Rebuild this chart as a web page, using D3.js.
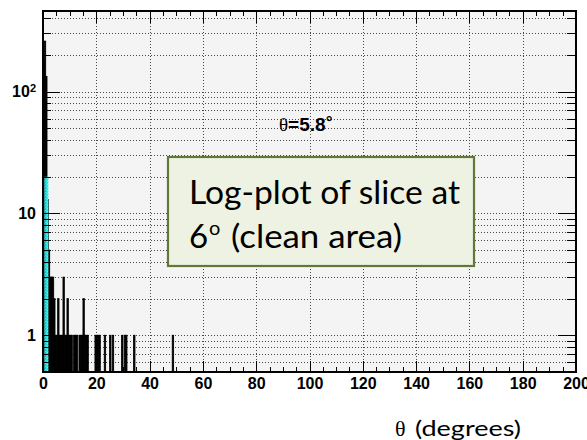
<!DOCTYPE html>
<html>
<head>
<meta charset="utf-8">
<script src="https://cdn.jsdelivr.net/npm/d3@7"></script>
<style>
  html, body { margin: 0; padding: 0; background: #ffffff; }
  svg { display: block; }
</style>
</head>
<body>
<svg id="chart" width="587" height="440"></svg>
<script>
// ---------- data ----------
const binWidth = 0.5;                       // degrees per bin
// main (black) histogram: low edges of non-empty bins and their counts
const mainLow   = [0.0, 0.5, 1.0, 1.5, 2.0, 2.5, 3.0, 3.5, 4.0, 4.5, 5.0, 5.5, 6.0, 6.5, 7.0, 7.5, 8.0, 8.5, 9.0, 9.5,
                   10.0, 10.5, 11.5, 12.0, 12.5, 13.5, 14.0, 14.5, 15.0, 15.5, 16.0, 16.5,
                   19.5, 20.0, 20.5, 21.0, 23.0, 25.0, 26.0, 29.5, 30.5, 31.0, 34.0, 48.5];
const mainCount = [184, 259, 133, 13, 5, 3, 3, 3, 2, 1, 1, 2, 1, 1, 1, 3, 1, 1, 2, 1,
                   1, 1, 1, 1, 1, 1, 1, 1, 2, 1, 1, 1,
                   1, 1, 1, 1, 1, 1, 1, 1, 1, 1, 1, 1];
// cyan (core) histogram
const coreLow   = [0.5, 1.0, 1.5];
const coreCount = [20, 20, 20];

const xTicksMajor = [0, 20, 40, 60, 80, 100, 120, 140, 160, 180, 200];
const yTicksMajor = [1, 10, 100];
const yLabels     = ["1", "10", "10^2"];
const titleValue  = "5.8";
const boxLine1    = "Log-plot of slice at";
const boxLine2a   = "6";
const boxLine2sup = "o";
const boxLine2b   = "(clean area)";
const xAxisTitle  = "(degrees)";

// ---------- layout ----------
const L = 43, R = 576, T = 11, B = 372;
const svg = d3.select("#chart");
const x = d3.scaleLinear().domain([0, 200]).range([L, R]);
const y = d3.scaleLog().domain([0.5, 458]).range([B, T]);

// minor tick values
const xMinor = d3.range(0, 201, 5).filter(v => v % 20 !== 0);
const yAll = [];
[0.1, 1, 10, 100].forEach(d => { for (let k = 1; k <= 9; k++) { const v = +(k * d).toPrecision(3); if (v >= 0.5 && v <= 458) yAll.push(v); } });
const yMinor = yAll.filter(v => !yTicksMajor.includes(v));

// clip
svg.append("defs").append("clipPath").attr("id", "plotclip")
  .append("rect").attr("x", L).attr("y", T).attr("width", R - L).attr("height", B - T);

// cyan checker pattern
const pat = svg.select("defs").append("pattern").attr("id", "cyanpat")
  .attr("patternUnits", "userSpaceOnUse").attr("width", 3).attr("height", 3);
pat.append("rect").attr("width", 3).attr("height", 3).attr("fill", "#2fe0e0");
pat.append("rect").attr("x", 0).attr("y", 0).attr("width", 1).attr("height", 1).attr("fill", "#a8f4f4");
pat.append("rect").attr("x", 2).attr("y", 1).attr("width", 1).attr("height", 1).attr("fill", "#7aeaea");

// background
svg.append("rect").attr("x", L).attr("y", T).attr("width", R - L).attr("height", B - T).attr("fill", "#f4f4f4");

// grid
const grid = svg.append("g").attr("stroke", "#000").attr("stroke-width", 1)
  .attr("stroke-dasharray", "1,2").attr("shape-rendering", "crispEdges").attr("opacity", 0.7);
grid.selectAll("line.v").data(xTicksMajor.filter(v => v > 0 && v < 200)).join("line")
  .attr("x1", d => Math.round(x(d)) + 0.5).attr("x2", d => Math.round(x(d)) + 0.5)
  .attr("y1", T).attr("y2", B);
grid.selectAll("line.h").data(yAll).join("line")
  .attr("y1", d => Math.round(y(d)) + 0.5).attr("y2", d => Math.round(y(d)) + 0.5)
  .attr("x1", L).attr("x2", R);

// histogram bars
const plot = svg.append("g").attr("clip-path", "url(#plotclip)");
const mainBins = mainLow.map((lo, i) => ({ lo, c: mainCount[i] }));
plot.selectAll("rect.main").data(mainBins).join("rect")
  .attr("x", d => x(d.lo)).attr("width", d => x(d.lo + binWidth) - x(d.lo))
  .attr("y", d => y(d.c)).attr("height", d => B - y(d.c))
  .attr("fill", "#000").attr("stroke", "#000").attr("stroke-width", 0.9);
const coreBins = coreLow.map((lo, i) => ({ lo, c: coreCount[i] }));
plot.selectAll("rect.core").data(coreBins).join("rect")
  .attr("x", d => x(d.lo)).attr("width", d => x(d.lo + binWidth) - x(d.lo) + 0.05)
  .attr("y", d => y(d.c)).attr("height", d => B - y(d.c))
  .attr("fill", "url(#cyanpat)");

// axes ticks
function strip(g) { g.select(".domain").remove(); g.selectAll("line").attr("stroke", "#000").attr("shape-rendering", "crispEdges"); }
const tickFont = "bold 16px 'Liberation Sans', Arial, sans-serif";

// bottom
svg.append("g").attr("transform", `translate(0,${B})`)
  .call(d3.axisBottom(x).tickValues(xTicksMajor).tickSizeInner(-11).tickSizeOuter(0).tickPadding(6).tickFormat(d3.format("d")))
  .call(strip)
  .call(g => g.selectAll("text").attr("fill", "#000").style("font", tickFont));
svg.append("g").attr("transform", `translate(0,${B})`)
  .call(d3.axisBottom(x).tickValues(xMinor).tickSizeInner(-5).tickSizeOuter(0).tickFormat(""))
  .call(strip);
// top
svg.append("g").attr("transform", `translate(0,${T})`)
  .call(d3.axisTop(x).tickValues(xTicksMajor).tickSizeInner(-12).tickSizeOuter(0).tickFormat(""))
  .call(strip);
svg.append("g").attr("transform", `translate(0,${T})`)
  .call(d3.axisTop(x).tickValues(xMinor).tickSizeInner(-5).tickSizeOuter(0).tickFormat(""))
  .call(strip);
// left
svg.append("g").attr("transform", `translate(${L},0)`)
  .call(d3.axisLeft(y).tickValues(yTicksMajor).tickSizeInner(-17).tickSizeOuter(0).tickFormat(""))
  .call(strip);
svg.append("g").attr("transform", `translate(${L},0)`)
  .call(d3.axisLeft(y).tickValues(yMinor).tickSizeInner(-8).tickSizeOuter(0).tickFormat(""))
  .call(strip);
// right
svg.append("g").attr("transform", `translate(${R},0)`)
  .call(d3.axisRight(y).tickValues(yTicksMajor).tickSizeInner(-18).tickSizeOuter(0).tickFormat(""))
  .call(strip);
svg.append("g").attr("transform", `translate(${R},0)`)
  .call(d3.axisRight(y).tickValues(yMinor).tickSizeInner(-9).tickSizeOuter(0).tickFormat(""))
  .call(strip);

// y labels
const yl = svg.append("g").attr("fill", "#000").style("font", tickFont).attr("text-anchor", "end");
yTicksMajor.forEach((v, i) => {
  const lab = yLabels[i];
  const t = yl.append("text").attr("x", L - 7).attr("y", y(v)).attr("dy", "0.36em");
  if (lab.includes("^")) {
    const [base, ex] = lab.split("^");
    t.append("tspan").text(base);
    t.append("tspan").attr("dy", "-0.45em").style("font-size", "11px").text(ex);
  } else {
    t.text(lab);
  }
});

// frame
svg.append("rect").attr("x", L).attr("y", T).attr("width", R - L).attr("height", B - T)
  .attr("fill", "none").attr("stroke", "#000").attr("stroke-width", 2);

// title  θ=5.8°
const title = svg.append("text").attr("x", 279).attr("y", 131).attr("fill", "#000");
title.append("tspan").style("font", "19px 'Liberation Serif', serif").text("θ");
title.append("tspan").style("font", "bold 19px 'Liberation Sans', Arial, sans-serif").text("=" + titleValue);
title.append("tspan").style("font", "bold 17px 'Liberation Sans', Arial, sans-serif").attr("dy", "-3").text("°");

// annotation box
svg.append("rect").attr("x", 168).attr("y", 157).attr("width", 306).attr("height", 109)
  .attr("fill", "#eef2e3").attr("stroke", "#62783a").attr("stroke-width", 2.2);
const boxFont = "33px Lato, 'Open Sans', sans-serif";
svg.append("text").attr("x", 189).attr("y", 204).style("font", boxFont).attr("fill", "#000")
  .attr("textLength", 271).attr("lengthAdjust", "spacingAndGlyphs").text(boxLine1);
svg.append("text").attr("x", 189).attr("y", 248).style("font", boxFont).attr("fill", "#000").text(boxLine2a);
svg.append("text").attr("x", 209).attr("y", 235).style("font", "20px Lato, 'Open Sans', sans-serif").attr("fill", "#000").text(boxLine2sup);
svg.append("text").attr("x", 231).attr("y", 248).style("font", boxFont).attr("fill", "#000")
  .attr("textLength", 171).attr("lengthAdjust", "spacingAndGlyphs").text(boxLine2b);

// x axis title  θ (degrees)
svg.append("text").attr("x", 395).attr("y", 436).style("font", "22px 'Liberation Serif', serif").attr("fill", "#000").text("θ");
svg.append("text").attr("x", 415).attr("y", 436).style("font", "21px Lato, 'Open Sans', sans-serif").attr("fill", "#000")
  .attr("textLength", 106).attr("lengthAdjust", "spacingAndGlyphs").text(xAxisTitle);
</script>
</body>
</html>
